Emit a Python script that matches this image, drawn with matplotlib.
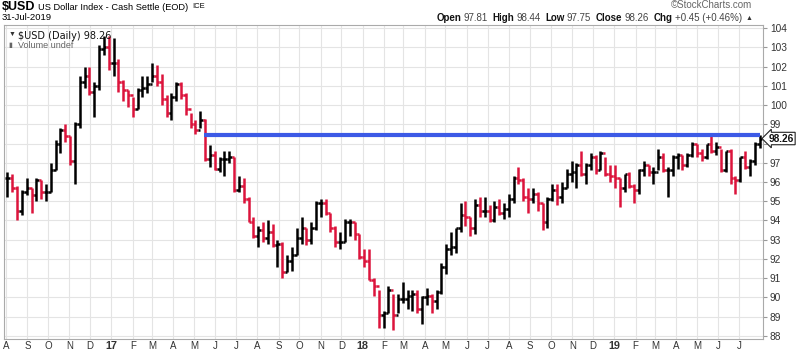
import numpy as np
import pandas as pd
import matplotlib
matplotlib.use('Agg')
import matplotlib.pyplot as plt
import matplotlib.dates as mdates
from matplotlib.collections import LineCollection

plt.rcParams['font.family'] = ['Liberation Sans', 'DejaVu Sans']

# weekly bars (week ending Friday)
week_end = pd.date_range('2016-08-05', periods=157, freq='7D')

closes = [96.2, 95.7, 94.5, 95.5, 95.7, 95.3, 96.1, 95.5, 95.5, 96.6,
          98.0, 98.7, 98.4, 97.1, 99.0, 101.2, 101.5, 100.7, 101.0, 102.9,
          103.0, 102.2, 102.2, 101.2, 100.8, 100.5, 99.8, 100.8, 100.9, 101.1,
          101.5, 101.2, 100.3, 99.6, 100.4, 101.1, 100.5, 99.8, 99.0, 98.7,
          99.2, 97.2, 97.4, 96.7, 97.2, 97.2, 97.3, 95.6, 95.8, 95.1,
          93.9, 93.2, 93.5, 93.1, 93.4, 92.7, 92.8, 91.3, 91.9, 92.2,
          93.1, 93.6, 93.0, 93.6, 94.9, 94.9, 94.4, 93.6, 92.9, 92.9,
          93.9, 93.9, 93.3, 92.1, 91.9, 90.9, 90.6, 89.1, 89.2, 90.4,
          89.1, 89.9, 89.9, 90.1, 90.2, 89.4, 90.0, 90.1, 89.8, 90.3,
          91.6, 92.5, 92.6, 93.6, 94.3, 94.2, 93.6, 94.8, 94.5, 94.5,
          94.0, 94.7, 94.4, 94.6, 95.1, 96.2, 96.1, 95.2, 95.1, 95.4,
          94.9, 93.9, 95.1, 95.6, 95.2, 95.7, 96.4, 96.5, 96.9, 96.4,
          96.9, 97.3, 96.6, 97.5, 96.4, 96.3, 96.2, 95.7, 96.4, 95.8,
          95.6, 96.6, 96.9, 96.5, 96.5, 97.3, 96.6, 96.6, 97.3, 97.4,
          96.9, 97.4, 98.0, 97.5, 97.3, 98.0, 97.6, 97.8, 96.6, 97.6,
          96.2, 96.1, 97.3, 96.8, 97.1, 98.0, 98.26]

highs = [96.5, 96.4, 95.8, 95.6, 96.2, 95.7, 96.2, 96.1, 95.9, 97.0,
         98.2, 98.8, 99.0, 98.4, 99.1, 101.5, 102.0, 102.0, 101.2, 103.1,
         103.6, 103.6, 103.5, 102.4, 101.3, 100.8, 100.4, 100.9, 101.5, 101.5,
         102.2, 102.1, 101.6, 100.5, 100.6, 101.2, 101.2, 100.6, 99.6, 99.2,
         99.7, 99.3, 97.9, 97.6, 97.3, 97.6, 97.6, 97.3, 96.3, 96.2,
         95.2, 94.2, 93.7, 93.9, 94.0, 93.8, 93.0, 92.9, 92.2, 92.6,
         93.6, 94.2, 93.6, 93.9, 95.0, 95.1, 95.1, 94.4, 93.7, 93.4,
         94.1, 94.1, 93.9, 93.3, 92.5, 92.5, 91.0, 90.4, 89.3, 90.6,
         90.2, 90.2, 90.8, 90.4, 90.4, 90.4, 90.1, 90.5, 90.2, 90.4,
         91.8, 92.8, 93.4, 93.6, 94.9, 95.0, 94.2, 95.1, 95.2, 95.2,
         94.8, 95.0, 95.1, 94.9, 95.4, 96.3, 96.8, 96.2, 95.7, 95.7,
         95.5, 94.9, 95.2, 95.9, 95.9, 96.0, 96.7, 97.1, 97.0, 97.6,
         97.0, 97.5, 97.4, 97.6, 97.3, 96.9, 96.9, 96.2, 96.4, 96.5,
         95.9, 96.7, 97.1, 96.9, 96.8, 97.7, 97.5, 96.8, 97.4, 97.5,
         97.4, 97.5, 98.1, 98.0, 97.7, 98.0, 98.4, 98.1, 97.7, 97.6,
         97.7, 96.3, 97.3, 97.6, 97.2, 98.1, 98.44]

lows = [95.2, 95.5, 94.0, 94.3, 95.3, 94.4, 95.0, 95.1, 95.0, 95.5,
        96.6, 97.5, 98.1, 96.9, 95.9, 98.8, 100.9, 100.5, 99.4, 100.8,
        102.6, 101.8, 101.5, 100.7, 100.2, 99.9, 99.4, 99.8, 100.4, 100.6,
        101.2, 101.0, 100.0, 99.4, 99.2, 100.2, 100.3, 99.5, 98.8, 98.5,
        98.8, 97.1, 96.8, 96.6, 96.5, 96.3, 97.0, 95.5, 95.5, 94.9,
        93.9, 93.1, 92.6, 92.9, 92.8, 92.6, 91.6, 91.0, 91.3, 91.4,
        92.2, 92.8, 92.7, 92.8, 93.5, 94.2, 94.3, 93.4, 92.6, 92.5,
        92.9, 93.2, 93.0, 92.0, 91.6, 90.9, 90.1, 88.4, 88.4, 89.2,
        88.3, 89.2, 89.7, 89.4, 89.3, 89.2, 88.6, 89.6, 89.2, 89.4,
        90.2, 91.2, 92.2, 92.3, 93.4, 93.7, 93.2, 93.3, 94.2, 94.2,
        93.9, 93.9, 94.3, 94.1, 94.2, 94.9, 95.9, 95.0, 94.4, 94.9,
        94.5, 93.5, 93.6, 95.0, 94.8, 94.9, 95.7, 96.0, 95.7, 96.3,
        95.9, 96.6, 96.4, 96.6, 96.3, 96.0, 95.7, 94.7, 95.5, 95.7,
        94.9, 95.4, 96.3, 96.3, 95.9, 96.6, 96.5, 95.2, 96.3, 96.7,
        96.6, 96.8, 97.3, 97.3, 97.1, 97.2, 97.5, 97.4, 96.5, 96.5,
        95.9, 95.4, 96.0, 96.7, 96.3, 96.9, 97.75]

last_open, last_high, last_low, last_close = 97.81, 98.44, 97.75, 98.26
chg, chg_pct = 0.45, 0.46
level = 98.44
level_start = '2017-05-15'
level_end = '2019-07-31'

months = pd.date_range('2016-08-01', '2019-07-01', freq='MS')
month_labels = [d.strftime('%y') if d.month == 1 else d.strftime('%b')[0] for d in months]

fig = plt.figure(figsize=(8, 3.54), dpi=100)
ax = fig.add_axes([4/800, 15/354, 759/800, 314/354])

# HLC bars, open tick at prior close
xc = mdates.date2num(week_end - pd.Timedelta(days=2))
segs, cols = [], []
for i in range(len(closes)):
    prev = closes[i-1] if i > 0 else closes[i]
    c = 'black' if closes[i] >= prev else '#dc143c'
    segs.append([(xc[i], lows[i]), (xc[i], highs[i])])
    segs.append([(xc[i] - 3.5, prev), (xc[i], prev)])
    segs.append([(xc[i], closes[i]), (xc[i] + 3.5, closes[i])])
    cols += [c, c, c]
ax.add_collection(LineCollection(segs, colors=cols, linewidths=1.8, zorder=3))

ax.plot(pd.to_datetime([level_start, level_end]), [level, level],
        color='#3c5ae6', lw=3.0, solid_capstyle='butt', zorder=4)

ax.set_xlim(mdates.date2num(pd.Timestamp('2016-07-29')),
            mdates.date2num(pd.Timestamp('2019-08-05')))
ax.set_ylim(87.84, 104.16)

ax.set_xticks(mdates.date2num(months))
ax.set_xticklabels(month_labels, fontsize=7, color='#333333')
for lbl, d in zip(ax.get_xticklabels(), months):
    if d.month == 1:
        lbl.set_fontweight('bold')
        lbl.set_fontsize(7.8)
yt = list(range(88, 105))
ax.set_yticks(yt)
ax.set_yticklabels(['' if v == 98 else str(v) for v in yt])
ax.yaxis.tick_right()
ax.tick_params(axis='y', labelsize=7.3, labelcolor='#333333', length=3, color='#999999', pad=2)
ax.tick_params(axis='x', length=0, pad=1.5)
ax.grid(color='#e4e4e4', lw=0.8, zorder=0)
for s in ax.spines.values():
    s.set_color('#aaaaaa')
    s.set_linewidth(0.8)

ax.annotate(f'{last_close:.2f}', xy=(1.0, last_close), xycoords=('axes fraction', 'data'),
            xytext=(4, 0), textcoords='offset points', va='center', ha='left',
            fontsize=7.3, fontweight='bold', color='#111111', zorder=10,
            bbox=dict(boxstyle='larrow,pad=0.12', fc='white', ec='#222222', lw=0.8),
            annotation_clip=False)

def px(x, y):
    return x / 800, 1 - y / 354

fig.canvas.draw()
r = fig.canvas.get_renderer()

def text_row(x0, y, parts, right=None):
    # lay out pieces left to right, measured in pixels
    items, x = [], x0
    for t, kw, gap in parts:
        tx = fig.text(*px(x, y), t, va='center', **kw)
        w = tx.get_window_extent(renderer=r).width
        items.append((tx, x))
        x += w + gap
    if right is not None:
        shift = right - (x - parts[-1][2])
        for tx, xx in items:
            tx.set_position(px(xx + shift, y))

text_row(2, 7, [('$USD', dict(fontsize=9, fontweight='bold'), 3),
                ('US Dollar Index - Cash Settle (EOD)', dict(fontsize=6.7), 4),
                ('ICE', dict(fontsize=5.5), 0)])
fig.text(*px(2, 18), '31-Jul-2019', fontsize=6.8, va='center')
fig.text(*px(752, 5.5), '\u00a9StockCharts.com', fontsize=7, color='#666666', va='center', ha='right')

lab = dict(fontsize=7, fontweight='bold', color='#111111')
val = dict(fontsize=7, color='#444444')
text_row(439, 18, [('Open', lab, 2), (f'{last_open:.2f}', val, 5),
                   ('High', lab, 2), (f'{last_high:.2f}', val, 5),
                   ('Low', lab, 2), (f'{last_low:.2f}', val, 5),
                   ('Close', lab, 2), (f'{last_close:.2f}', val, 5),
                   ('Chg', lab, 2), (f'+{chg:.2f} (+{chg_pct:.2f}%)', val, 3),
                   ('\u25b2', dict(fontsize=5, color='#333333'), 0)], right=752)

ax.text(0.018, 0.982, '$USD (Daily) 98.26', transform=ax.transAxes, fontsize=7,
        family='DejaVu Sans', va='top', ha='left', color='#111111')
ax.text(0.006, 0.982, '\u25bc', transform=ax.transAxes, fontsize=5, color='#333333', va='top')
ax.text(0.006, 0.947, '\u25ae', transform=ax.transAxes, fontsize=5, color='#666666', va='top')
ax.text(0.018, 0.948, 'Volume undef', transform=ax.transAxes, fontsize=6.5,
        va='top', ha='left', color='#666666')

fig.savefig('out.png', dpi=100)
